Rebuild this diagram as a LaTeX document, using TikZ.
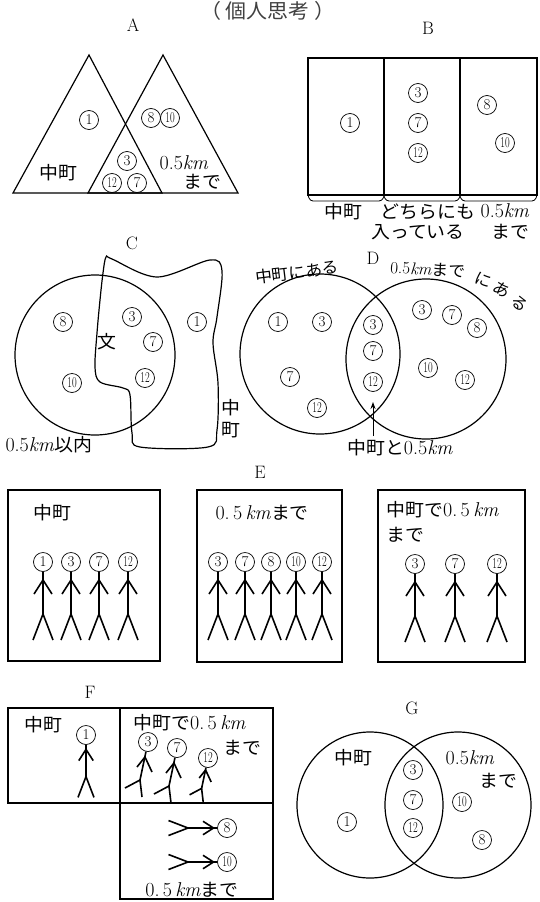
\documentclass[tikz,border=0pt]{standalone}
\usepackage{fontspec}
\newfontfamily\jp{Noto Sans CJK JP}[FakeStretch=1.05]
\usetikzlibrary{arrows.meta}
\def\km{\textit{km}}
\def\wkm{0.\,5\,\km}
\def\tw#1{\scalebox{0.68}[1]{#1}}
\def\js{\jp\fontsize{18}{20}\selectfont}

\tikzset{
  outline/.style={line width=1.2pt},
  man/.style={line width=1.6pt},
  num/.style={circle,draw,line width=0.7pt,minimum size=19pt,inner sep=0pt,font=\fontsize{15}{15}\selectfont},
  jtxt/.style={font=\js},
  mixtxt/.style={font=\fontsize{20}{20}\selectfont},
  smalltxt/.style={font=\jp\fontsize{16}{18}\selectfont},
  letter/.style={font=\fontsize{18}{18}\selectfont},
  % standing figure, head on top
  stickman/.pic={
    \node[num] (-head) at (0,0) {#1};
    \draw[man] (-head) -- (0,52);
    \draw[man] (-9,32) -- (0,18) -- (9,32);
    \draw[man] (-10,78) -- (0,52) -- (10,78);
  },
  % figure walking to the right
  walker/.pic={
    \node[num] (-head) at (0,0) {#1};
    \draw[man] (-head) -- (-8,38);
    \draw[man] (-11,25) -- (-3,15) -- (4,30);
    \draw[man] (-23,46) -- (-8,38) -- (-6,55);
  }
}

\begin{document}
\begin{tikzpicture}[x=1pt,y=-1pt]
  \useasboundingbox (0,0) rectangle (539,902);

  %%%%% TITLE %%%%%
  \node[font=\jp\fontsize{20}{20}\selectfont,text=black!75] at (268,11) {（\ 個人思考\ ）};

  %%%%% A %%%%%
  \node[letter] at (133,25) {A};
  \draw[outline] (13,193) -- (89,55) -- (162,193) -- cycle;
  \draw[outline] (88,193) -- (163,55) -- (238,193) -- cycle;
  \node[num] at (89,120) {1};
  \node[num] at (151,118) {8};
  \node[num] at (170,118) {\tw{10}};
  \node[num] at (127,161) {3};
  \node[num] at (112,183) {\tw{12}};
  \node[num] at (137,183) {7};
  \node[jtxt] at (58,173) {中町};
  \node[mixtxt] at (184,163) {0.5\km};
  \node[jtxt] at (202,182) {まで};

  %%%%% B %%%%%
  \node[letter] at (428,28) {B};
  \draw[outline] (308,58) rectangle (537,195);
  \draw[outline] (384,58) -- (384,195);
  \draw[outline] (460,58) -- (460,195);
  \node[num] at (350,123) {1};
  \node[num] at (418,93) {3};
  \node[num] at (418,123) {7};
  \node[num] at (418,153) {\tw{12}};
  \node[num] at (487,105) {8};
  \node[num] at (505,143) {\tw{10}};
  \draw[line width=0.8pt,rounded corners=3pt] (308,195) -- (310,201) -- (382,201) -- (384,196);
  \draw[line width=0.8pt,rounded corners=3pt] (384,196) -- (386,201) -- (458,201) -- (460,196);
  \draw[line width=0.8pt,rounded corners=3pt] (460,196) -- (462,201) -- (535,201) -- (537,195);
  \node[jtxt] at (343,212) {中町};
  \node[jtxt] at (428,212) {どちらにも};
  \node[jtxt] at (418,232) {入っている};
  \node[mixtxt] at (505,211) {0.5\km};
  \node[jtxt] at (510,232) {まで};

  %%%%% C %%%%%
  \node[letter] at (132,243) {C};
  \draw[outline] (95,355) circle (80);
  \draw[outline] plot[smooth cycle,tension=0.55] coordinates {
    (106,257) (112,259) (157,277) (210,260) (222,271) (217,317) (213,343)
    (218,383) (217,430) (208,447) (140,447) (132,433) (130,395) (123,388)
    (100,382) (95,367) (97,333) (100,300) (103,273)};
  \node[num] at (63,322) {8};
  \node[num] at (132,317) {3};
  \node[jtxt] at (107,342) {文};
  \node[num] at (153,342) {7};
  \node[num] at (72,383) {\tw{10}};
  \node[num] at (145,378) {\tw{12}};
  \node[num] at (197,322) {1};
  \node[jtxt] at (231,408) {中};
  \node[jtxt] at (231,430) {町};
  \node[mixtxt,anchor=west] at (2,445) {0.5\km{\js 以内}};

  %%%%% D %%%%%
  \node[letter] at (373,258) {D};
  \draw[outline] (320,354) circle (80);
  \draw[outline] (426,359) circle (80);
  \node[smalltxt,rotate=7] at (297,272) {中町にある};
  \node[font=\fontsize{17}{17}\selectfont,rotate=-3] at (428,269) {0.5\km{\jp\fontsize{16}{18}\selectfont まで}};
  \node[smalltxt,rotate=-20] at (483,280) {に};
  \node[smalltxt,rotate=-30] at (502,290) {あ};
  \node[smalltxt,rotate=-40] at (520,304) {る};
  \node[num] at (278,322) {1};
  \node[num] at (322,322) {3};
  \node[num] at (290,377) {7};
  \node[num] at (317,408) {\tw{12}};
  \node[num] at (373,325) {3};
  \node[num] at (373,351) {7};
  \node[num] at (373,382) {\tw{12}};
  \node[num] at (422,310) {3};
  \node[num] at (452,315) {7};
  \node[num] at (477,328) {8};
  \node[num] at (428,368) {\tw{10}};
  \node[num] at (465,380) {\tw{12}};
  \node[mixtxt] (dboth) at (400,448) {{\js 中町と}0.5\km};
  \coordinate (dmeet) at (373,402);
  \draw[line width=1pt,-{Stealth[length=7pt,width=5pt]}] (dboth.north -| dmeet) -- (dmeet);

  %%%%% E %%%%%
  \node[letter] at (260,472) {E};
  \draw[outline] (8,490) rectangle (160,661);
  \draw[outline] (197,490) rectangle (342,662);
  \draw[outline] (378,490) rectangle (525,662);
  \node[jtxt,anchor=west] at (30,513) {中町};
  \node[mixtxt,anchor=west] at (212,513) {\wkm{\js まで}};
  \node[mixtxt,anchor=west] at (383,510) {{\js 中町で}\wkm};
  \node[jtxt,anchor=west] at (383,535) {まで};
  \pic at (43,562) {stickman=1};
  \pic at (71,562) {stickman=3};
  \pic at (99,562) {stickman=7};
  \pic at (128,562) {stickman={\tw{12}}};
  \pic at (218,562) {stickman=3};
  \pic at (245,562) {stickman=7};
  \pic at (271,562) {stickman=8};
  \pic at (296,562) {stickman={\tw{10}}};
  \pic at (322,562) {stickman={\tw{12}}};
  \pic at (415,564) {stickman=3};
  \pic at (455,564) {stickman=7};
  \pic at (497,564) {stickman={\tw{12}}};

  %%%%% F %%%%%
  \node[letter] at (90,692) {F};
  \draw[outline] (8,708) rectangle (120,803);
  \draw[outline] (120,708) rectangle (273,803);
  \draw[outline] (120,803) rectangle (273,899);
  \node[jtxt] at (43,725) {中町};
  \pic[scale=0.8] at (86,735) {stickman=1};
  \node[mixtxt,anchor=west] at (130,723) {{\js 中町で}\wkm};
  \node[jtxt] at (242,748) {まで};
  \pic at (148,742) {walker=3};
  \pic at (177,748) {walker=7};
  \pic[scale=0.8] at (208,758) {walker={\tw{12}}};
  \pic[rotate=-90,scale=0.75] at (227,828) {stickman=8};
  \pic[rotate=-90,scale=0.75] at (227,862) {stickman={\tw{10}}};
  \node[mixtxt] at (192,890) {\wkm{\js まで}};

  %%%%% G %%%%%
  \node[letter] at (412,708) {G};
  \draw[outline] (370,805) circle (73);
  \draw[outline] (458,805) circle (73);
  \node[jtxt] at (353,758) {中町};
  \node[num] at (347,822) {1};
  \node[num] at (413,770) {3};
  \node[num] at (413,800) {7};
  \node[num] at (413,828) {\tw{12}};
  \node[mixtxt] at (470,758) {0.5\km};
  \node[jtxt] at (498,781) {まで};
  \node[num] at (462,802) {\tw{10}};
  \node[num] at (482,840) {8};
\end{tikzpicture}
\end{document}
